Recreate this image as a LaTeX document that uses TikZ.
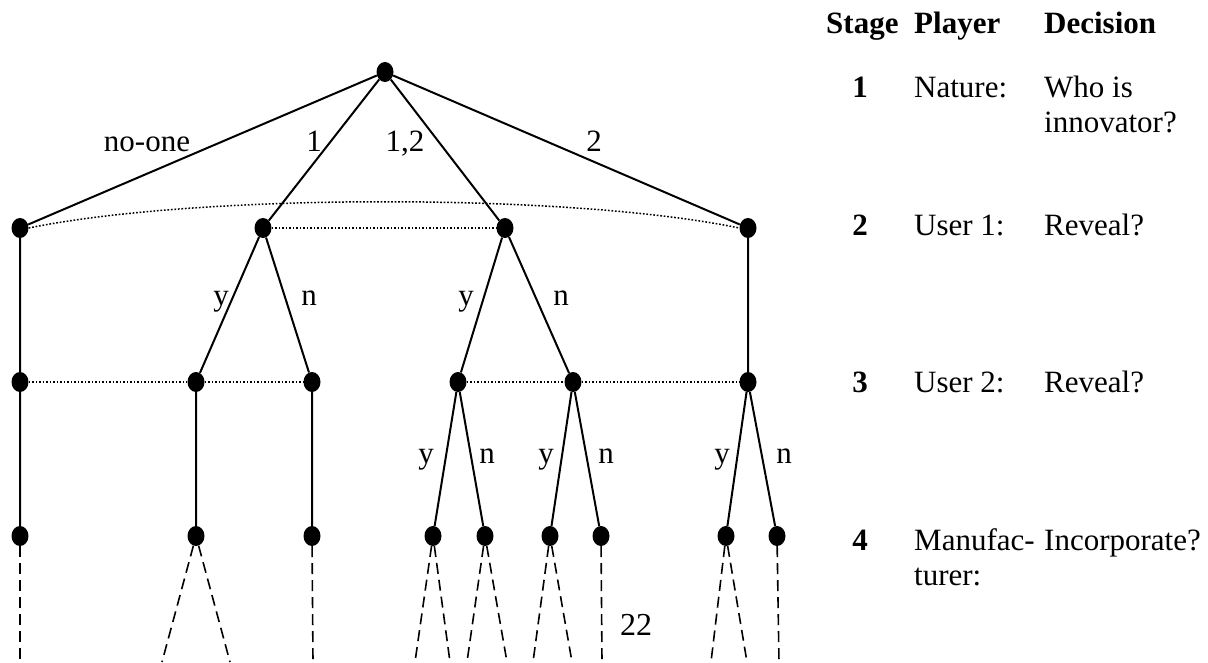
\documentclass[tikz,border=0pt]{standalone}
\usepackage{fontspec}
\setmainfont{Liberation Serif}
\usetikzlibrary{shapes.geometric}
\begin{document}
\begin{tikzpicture}[x=1pt,y=-1pt,
  dot/.style={ellipse,fill=black,draw=none,minimum width=17pt,minimum height=20pt,inner sep=0pt},
  edge/.style={line width=2pt},
  info/.style={line width=1.5pt,dash pattern=on 1.7pt off 1.8pt},
  cont/.style={line width=1.6pt,dash pattern=on 11pt off 6pt},
  lab/.style={font=\fontsize{31}{36}\selectfont,inner sep=0pt,anchor=base},
  tab/.style={font=\fontsize{31}{36}\selectfont,inner sep=0pt,anchor=base west},
  tabb/.style={font=\fontsize{31}{36}\selectfont\bfseries,inner sep=0pt,anchor=base west},
  tabn/.style={font=\fontsize{31}{36}\selectfont\bfseries,inner sep=0pt,anchor=base}]
\useasboundingbox (0,0) rectangle (1208,662);
\begin{scope}
\clip (0,0) rectangle (1208,662);
% nodes
\node[dot] (r) at (385,72) {};
\node[dot] (a1) at (20,228) {};
\node[dot] (a2) at (263,228) {};
\node[dot] (a3) at (505,228) {};
\node[dot] (a4) at (748,228) {};
\node[dot] (b1) at (20,382) {};
\node[dot] (b2) at (196,382) {};
\node[dot] (b3) at (312,382) {};
\node[dot] (b4) at (458,382) {};
\node[dot] (b5) at (573,382) {};
\node[dot] (b6) at (748,382) {};
\node[dot] (c1) at (20,536) {};
\node[dot] (c2) at (196,536) {};
\node[dot] (c3) at (312,536) {};
\node[dot] (c4) at (433,536) {};
\node[dot] (c5) at (485,536) {};
\node[dot] (c6) at (550,536) {};
\node[dot] (c7) at (601,536) {};
\node[dot] (c8) at (726,536) {};
\node[dot] (c9) at (777,536) {};
% free ends at bottom
\coordinate (e1) at (20,662);
\coordinate (e2) at (162,662);
\coordinate (e3) at (230,662);
\coordinate (e4) at (313,662);
\coordinate (e5) at (415,662);
\coordinate (e6) at (450,662);
\coordinate (e7) at (467,662);
\coordinate (e8) at (507,662);
\coordinate (e9) at (533,662);
\coordinate (e10) at (572,662);
\coordinate (e11) at (602,662);
\coordinate (e12) at (711,662);
\coordinate (e13) at (747,662);
\coordinate (e14) at (779,662);
% edges
\draw[edge] (r) -- (a1) (r) -- (a2) (r) -- (a3) (r) -- (a4);
\draw[edge] (a1) -- (b1) (a2) -- (b2) (a2) -- (b3) (a3) -- (b4) (a3) -- (b5) (a4) -- (b6);
\draw[edge] (b1) -- (c1) (b2) -- (c2) (b3) -- (c3) (b4) -- (c4) (b4) -- (c5) (b5) -- (c6) (b5) -- (c7) (b6) -- (c8) (b6) -- (c9);
% information sets
\draw[info] (a1.east) .. controls (200,193) and (570,193) .. (a4.west);
\draw[info] (a2) -- (a3);
\draw[info] (b1) -- (b2) -- (b3);
\draw[info] (b4) -- (b5) -- (b6);
% continuation
\draw[cont] (c1) -- (e1);
\draw[cont] (c2) -- (e2) (c2) -- (e3);
\draw[cont] (c3) -- (e4);
\draw[cont] (c4) -- (e5) (c4) -- (e6);
\draw[cont] (c5) -- (e7) (c5) -- (e8);
\draw[cont] (c6) -- (e9) (c6) -- (e10);
\draw[cont] (c7) -- (e11);
\draw[cont] (c8) -- (e12) (c8) -- (e13);
\draw[cont] (c9) -- (e14);
\end{scope}
% branch labels
\node[lab] (l1) at (147,151) {no-one};
\node[lab] (l2) at (314,151) {1};
\node[lab] (l3) at (405,151) {1,2};
\node[lab] (l4) at (594,151) {2};
\node[lab] (l5) at (221,305) {y};
\node[lab] (l6) at (309,305) {n};
\node[lab] (l7) at (466,305) {y};
\node[lab] (l8) at (561,305) {n};
\node[lab] (l9) at (426,463) {y};
\node[lab] (l10) at (487,463) {n};
\node[lab] (l11) at (546,463) {y};
\node[lab] (l12) at (606,463) {n};
\node[lab] (l13) at (722,463) {y};
\node[lab] (l14) at (784,463) {n};
\node[lab,font=\fontsize{32}{36}\selectfont] (pg) at (636,635) {22};
% table
\node[tabb] (h1) at (826,33) {Stage};
\node[tabb] (h2) at (914,33) {Player};
\node[tabb] (h3) at (1044,33) {Decision};
\node[tabn] (s1) at (860,97) {1};
\node[tab] (p1) at (914,97) {Nature:};
\node[tab] (d1) at (1044,97) {Who is};
\node[tab] (d1b) at (1044,132) {innovator?};
\node[tabn] (s2) at (860,235) {2};
\node[tab] (p2) at (914,235) {User 1:};
\node[tab] (d2) at (1044,235) {Reveal?};
\node[tabn] (s3) at (860,392) {3};
\node[tab] (p3) at (914,392) {User 2:};
\node[tab] (d3) at (1044,392) {Reveal?};
\node[tabn] (s4) at (860,550) {4};
\node[tab] (p4) at (914,550) {Manufac-};
\node[tab] (p4b) at (914,585) {turer:};
\node[tab] (d4) at (1044,550) {Incorporate?};
\end{tikzpicture}
\end{document}
